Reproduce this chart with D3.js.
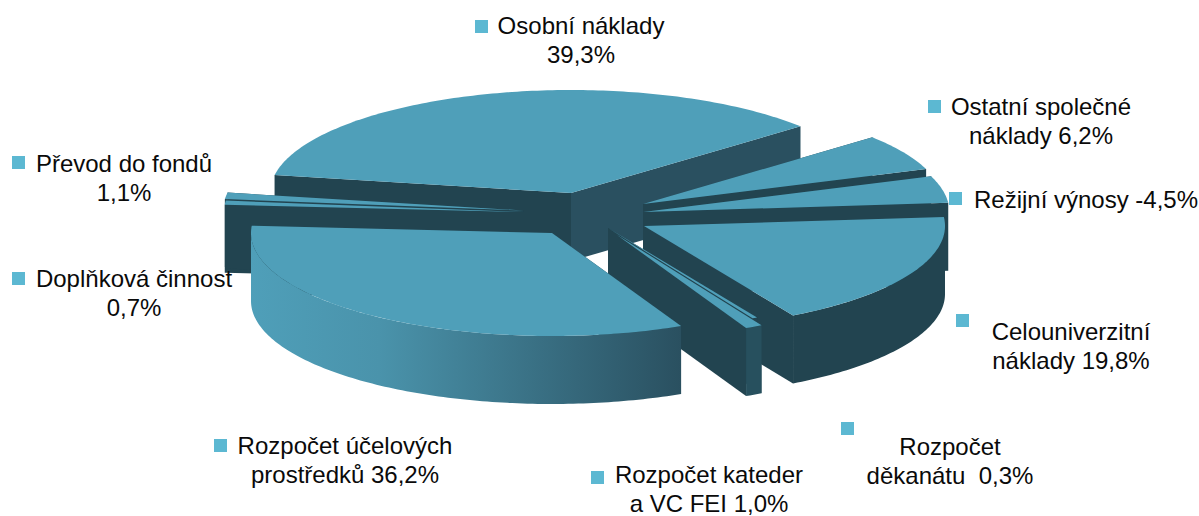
<!DOCTYPE html>
<html>
<head>
<meta charset="utf-8">
<script src="https://cdn.jsdelivr.net/npm/d3@7"></script>
<style>
  html, body { margin: 0; padding: 0; background: #fff; overflow: hidden; }
  svg { display: block; }
  text { font-family: "Liberation Sans", Arial, sans-serif; font-size: 24px; fill: #0a0a0a; }
</style>
</head>
<body>
<svg id="chart" width="1199" height="516"></svg>
<script>
// values, in slice order (clockwise from the left)
const categories = ["Osobní náklady", "Ostatní společné náklady", "Režijní výnosy", "Celouniverzitní náklady",
                    "Rozpočet děkanátu", "Rozpočet kateder a VC FEI", "Rozpočet účelových prostředků",
                    "Doplňková činnost", "Převod do fondů"];
const values = [39.3, 6.2, -4.5, 19.8, 0.3, 1.0, 36.2, 0.7, 1.1];
const labelLines = [
    ["Osobní náklady", "39,3%"],
    ["Ostatní společné", "náklady 6,2%"],
    ["Režijní výnosy -4,5%"],
    ["Celouniverzitní", "náklady 19,8%"],
    ["Rozpočet", "děkanátu  0,3%"],
    ["Rozpočet kateder", "a VC FEI 1,0%"],
    ["Rozpočet účelových", "prostředků 36,2%"],
    ["Doplňková činnost", "0,7%"],
    ["Převod do fondů", "1,1%"]
];

// layout, slice order
const center = { x: 600, y: 215 };
const radiusX = 301, radiusY = 103, depth = 68;
const explode = [[-29,-22], [43,-11], [43,-3], [44,11], [8,13], [17,20], [-48,18], [-75,-3], [-76,-4.5]];
const radiusScale = [1, 1, 1.018, 1, 1, 1, 1, 1, 1];
// x, y = centre of the text block and first baseline, mx, my = legend square
const labelPos = [
    { x: 581,  y: 34,  mx: 475, my: 20 },
    { x: 1041, y: 115, mx: 928, my: 100 },
    { x: 1086, y: 208, mx: 949, my: 192 },
    { x: 1071, y: 340, mx: 956, my: 314 },
    { x: 950,  y: 455, mx: 841, my: 422 },
    { x: 709,  y: 483, mx: 591, my: 471 },
    { x: 345,  y: 454, mx: 214, my: 439 },
    { x: 134,  y: 287, mx: 12,  my: 272 },
    { x: 124,  y: 172, mx: 12,  my: 156 }
];
// painter's order, back to front
const paintOrder = [0, 8, 7, 1, 2, 3, 4, 5, 6];

const topColor = "#4f9fb9", wallColor = "#224450", backWallColor = "#2a5060",
      katederRim = "#27505e", markerColor = "#5cb8d2";

let svg = d3.select("#chart");
let defs = svg.append("defs");

let rimGradient = defs.append("linearGradient")
    .attr("id", "rim-gradient")
    .attr("gradientUnits", "userSpaceOnUse")
    .attr("x1", 250).attr("y1", 0)
    .attr("x2", 681).attr("y2", 0);
rimGradient.append("stop").attr("offset", "0%").attr("stop-color", "#4f9fb9");
rimGradient.append("stop").attr("offset", "30%").attr("stop-color", "#4a93ab");
rimGradient.append("stop").attr("offset", "100%").attr("stop-color", "#2a5060");

// angles from the absolute values, the pie starts left of the top
let pie = d3.pie().sort(null).value(d => Math.abs(d))
    .startAngle(-80 * Math.PI / 180)
    .endAngle(280 * Math.PI / 180);
let arcs = pie(values);

let line = d3.line();

function rimPoint(t, i, drop) {
    let s = radiusScale[i];
    return [center.x + explode[i][0] + s * radiusX * Math.sin(t),
            center.y + explode[i][1] - s * radiusY * Math.cos(t) + drop];
}

// points along the rim, 1 degree or finer
function rimPoints(a0, a1, i, drop) {
    let n = Math.max(2, Math.ceil((a1 - a0) / 0.017));
    return d3.range(n + 1).map(k => rimPoint(a0 + (a1 - a0) * k / n, i, drop));
}

let chart = svg.append("g");

paintOrder.forEach(i => {
    let a = arcs[i];
    let apex = [center.x + explode[i][0], center.y + explode[i][1]];
    let apexLow = [apex[0], apex[1] + depth];
    let g = chart.append("g").attr("class", "slice");

    // the two radial walls
    [a.startAngle, a.endAngle].forEach((t, k) => {
        let p = rimPoint(t, i, 0), q = rimPoint(t, i, depth);
        g.append("path")
            .attr("d", line([apex, p, q, apexLow]) + "Z")
            .attr("fill", (i === 0 && k === 1) ? backWallColor : wallColor);
    });

    // front rim, only the part that faces the viewer
    let r0 = Math.max(a.startAngle, Math.PI / 2), r1 = Math.min(a.endAngle, Math.PI * 1.5);
    if (r1 > r0) {
        let rim = rimPoints(r0, r1, i, 0).concat(rimPoints(r0, r1, i, depth).reverse());
        g.append("path")
            .attr("d", line(rim) + "Z")
            .attr("fill", i === 6 ? "url(#rim-gradient)" : (i === 5 ? katederRim : wallColor));
    }

    // top face
    g.append("path")
        .attr("d", line([apex].concat(rimPoints(a.startAngle, a.endAngle, i, 0))) + "Z")
        .attr("fill", topColor);
});

// labels with their legend squares
let labels = svg.append("g").selectAll("g")
    .data(labelPos)
    .enter()
    .append("g");

labels.append("rect")
    .attr("x", d => d.mx)
    .attr("y", d => d.my)
    .attr("width", 13)
    .attr("height", 13)
    .attr("fill", markerColor);

labels.each(function(d, i) {
    d3.select(this).selectAll("text")
        .data(labelLines[i])
        .enter()
        .append("text")
        .attr("x", d.x)
        .attr("y", (s, k) => d.y + k * 29)
        .attr("text-anchor", "middle")
        .style("white-space", "pre")
        .text(s => s);
});
</script>
</body>
</html>
